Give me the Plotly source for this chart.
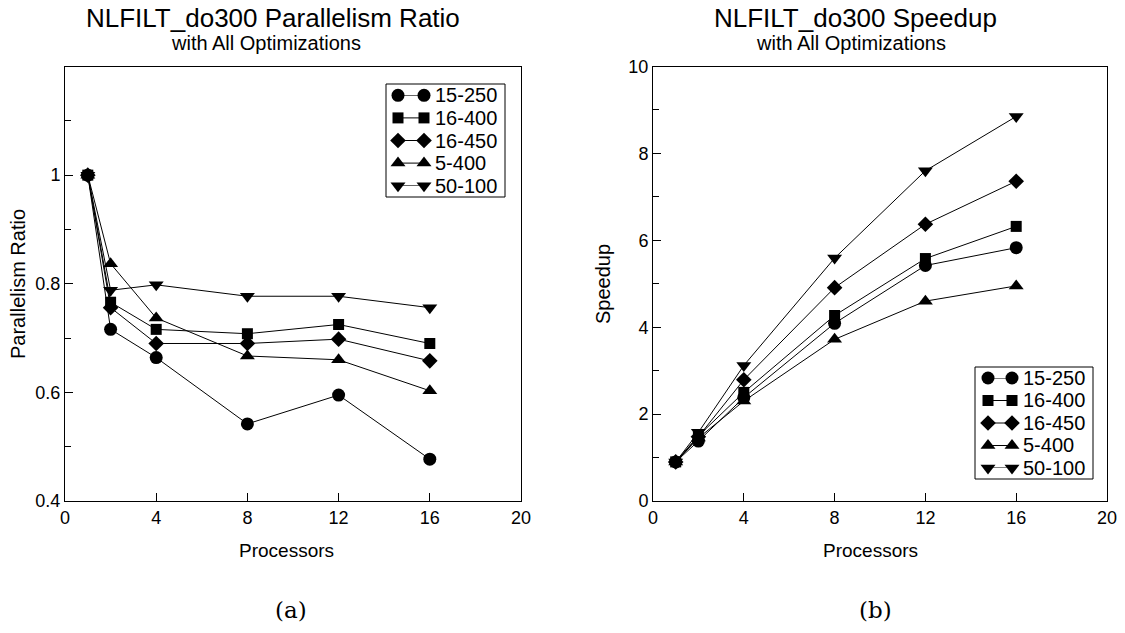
import plotly.graph_objects as go

processors = [1, 2, 4, 8, 12, 16]
series_names = ["15-250", "16-400", "16-450", "5-400", "50-100"]
symbols = ["circle", "square", "diamond", "triangle-up", "triangle-down"]

ratio_15_250 = [1.0, 0.716, 0.664, 0.542, 0.595, 0.477]
ratio_16_400 = [1.0, 0.766, 0.716, 0.708, 0.725, 0.690]
ratio_16_450 = [1.0, 0.756, 0.690, 0.690, 0.698, 0.658]
ratio_5_400 = [1.0, 0.837, 0.737, 0.667, 0.660, 0.603]
ratio_50_100 = [1.0, 0.788, 0.798, 0.777, 0.777, 0.756]

speed_15_250 = [0.9, 1.38, 2.38, 4.09, 5.42, 5.83]
speed_16_400 = [0.9, 1.50, 2.50, 4.27, 5.58, 6.32]
speed_16_450 = [0.9, 1.48, 2.79, 4.91, 6.37, 7.36]
speed_5_400 = [0.9, 1.45, 2.30, 3.72, 4.60, 4.95]
speed_50_100 = [0.9, 1.58, 3.12, 5.59, 7.60, 8.85]

ratio_series = [ratio_15_250, ratio_16_400, ratio_16_450, ratio_5_400, ratio_50_100]
speed_series = [speed_15_250, speed_16_400, speed_16_450, speed_5_400, speed_50_100]

W, H = 1125, 633
FONT = "Liberation Sans, Arial, sans-serif"

fig = go.Figure()

msize = {"circle": 13, "square": 11, "diamond": 12, "triangle-up": 13, "triangle-down": 13}


def px_x(p):
    return p / W


def px_y(p):
    return 1 - p / H


# ---- data traces ----
for name, sym, ys in zip(series_names, symbols, ratio_series):
    fig.add_trace(go.Scatter(
        x=processors, y=ys, name=name, mode="lines+markers",
        line=dict(color="black", width=1),
        marker=dict(symbol=sym, size=msize[sym], color="black"),
        xaxis="x", yaxis="y", showlegend=False, cliponaxis=False))

for name, sym, ys in zip(series_names, symbols, speed_series):
    fig.add_trace(go.Scatter(
        x=processors, y=ys, name=name, mode="lines+markers",
        line=dict(color="black", width=1),
        marker=dict(symbol=sym, size=msize[sym], color="black"),
        xaxis="x2", yaxis="y2", showlegend=False, cliponaxis=False))

# ---- legend boxes (xmgrace style: marker-line-marker keys) ----
legend_boxes = [
    # (left, top, right, bottom, xaxis, yaxis)
    (386, 84, 505, 197, "x3", "y3"),
    (975, 367, 1093, 479, "x4", "y4"),
]
n = len(series_names)
for (l, t, r, b, xa, ya) in legend_boxes:
    fig.add_shape(type="rect", xref="paper", yref="paper",
                  x0=px_x(l), x1=px_x(r), y0=px_y(b), y1=px_y(t),
                  line=dict(color="black", width=1), fillcolor="white", layer="below")
    for i, (name, sym) in enumerate(zip(series_names, symbols)):
        fig.add_trace(go.Scatter(
            x=[0, 1], y=[i, i], mode="lines+markers", showlegend=False, hoverinfo="skip",
            line=dict(color="black", width=1),
            marker=dict(symbol=sym, size=msize[sym], color="black"),
            xaxis=xa, yaxis=ya, cliponaxis=False))
        fig.add_annotation(text=name, x=1, y=i, xref=xa, yref=ya, xanchor="left",
                           yanchor="middle", xshift=9, showarrow=False,
                           font=dict(family=FONT, size=20, color="black"))

ydom = [px_y(501), px_y(66.5)]

axis_common = dict(
    showgrid=False, zeroline=False, showline=True, linecolor="black", linewidth=1,
    mirror=True, ticks="inside", ticklen=8, tickcolor="black", tickwidth=1,
    automargin=False,
    tickfont=dict(family=FONT, size=18, color="black"),
)

hidden = dict(visible=False, showgrid=False, zeroline=False, fixedrange=True, automargin=False)

fig.update_layout(
    width=W, height=H,
    margin=dict(l=0, r=0, t=0, b=0, pad=0),
    paper_bgcolor="white", plot_bgcolor="rgba(0,0,0,0)",
    showlegend=False,
    xaxis=dict(domain=[px_x(65), px_x(521)], range=[0, 20], tickvals=[0, 4, 8, 12, 16, 20],
               anchor="y", **axis_common),
    yaxis=dict(domain=ydom, range=[0.4, 1.2], tickvals=[0.4, 0.6, 0.8, 1.0],
               ticktext=["0.4", "0.6", "0.8", "1"], anchor="x",
               minor=dict(tickvals=[0.5, 0.7, 0.9, 1.1], ticks="inside", ticklen=6, tickcolor="black"),
               **axis_common),
    xaxis2=dict(domain=[px_x(653), px_x(1107)], range=[0, 20], tickvals=[0, 4, 8, 12, 16, 20],
                anchor="y2", **axis_common),
    yaxis2=dict(domain=ydom, range=[0, 10], tickvals=[0, 2, 4, 6, 8, 10], anchor="x2",
                minor=dict(tickvals=[1, 3, 5, 7, 9], ticks="inside", ticklen=6, tickcolor="black"),
                **axis_common),
    xaxis3=dict(domain=[px_x(398), px_x(424)], range=[0, 1], anchor="y3", **hidden),
    yaxis3=dict(domain=[px_y(185.7), px_y(95.3)], range=[n - 1, 0], anchor="x3", **hidden),
    xaxis4=dict(domain=[px_x(988), px_x(1012)], range=[0, 1], anchor="y4", **hidden),
    yaxis4=dict(domain=[px_y(468), px_y(378)], range=[n - 1, 0], anchor="x4", **hidden),
)

annotations = [
    dict(text="NLFILT_do300 Parallelism Ratio", x=px_x(273), y=px_y(18), size=26),
    dict(text="with All Optimizations", x=px_x(266), y=px_y(43), size=20),
    dict(text="NLFILT_do300 Speedup", x=px_x(856), y=px_y(18), size=26),
    dict(text="with All Optimizations", x=px_x(851), y=px_y(43), size=20),
    dict(text="Processors", x=px_x(286), y=px_y(550), size=19),
    dict(text="Processors", x=px_x(870), y=px_y(550), size=19),
]
for a in annotations:
    fig.add_annotation(text=a["text"], x=a["x"], y=a["y"], xref="paper", yref="paper",
                       xanchor="center", yanchor="middle", showarrow=False,
                       font=dict(family=FONT, size=a["size"], color="black"))

fig.add_annotation(text="Parallelism Ratio", x=px_x(18), y=px_y(284), xref="paper", yref="paper",
                   textangle=-90, showarrow=False, xanchor="center", yanchor="middle",
                   font=dict(family=FONT, size=20, color="black"))
fig.add_annotation(text="Speedup", x=px_x(603), y=px_y(284), xref="paper", yref="paper",
                   textangle=-90, showarrow=False, xanchor="center", yanchor="middle",
                   font=dict(family=FONT, size=20, color="black"))

for txt, cx in [("(a)", 291), ("(b)", 875)]:
    fig.add_annotation(text=txt, x=px_x(cx), y=px_y(610), xref="paper", yref="paper",
                       showarrow=False, xanchor="center", yanchor="middle",
                       font=dict(family="DejaVu Serif, Liberation Serif, serif", size=23, color="black"))

fig.write_html("out.html", config={"displayModeBar": False},
               post_script="document.body.style.margin='0';document.body.style.overflow='hidden';")
